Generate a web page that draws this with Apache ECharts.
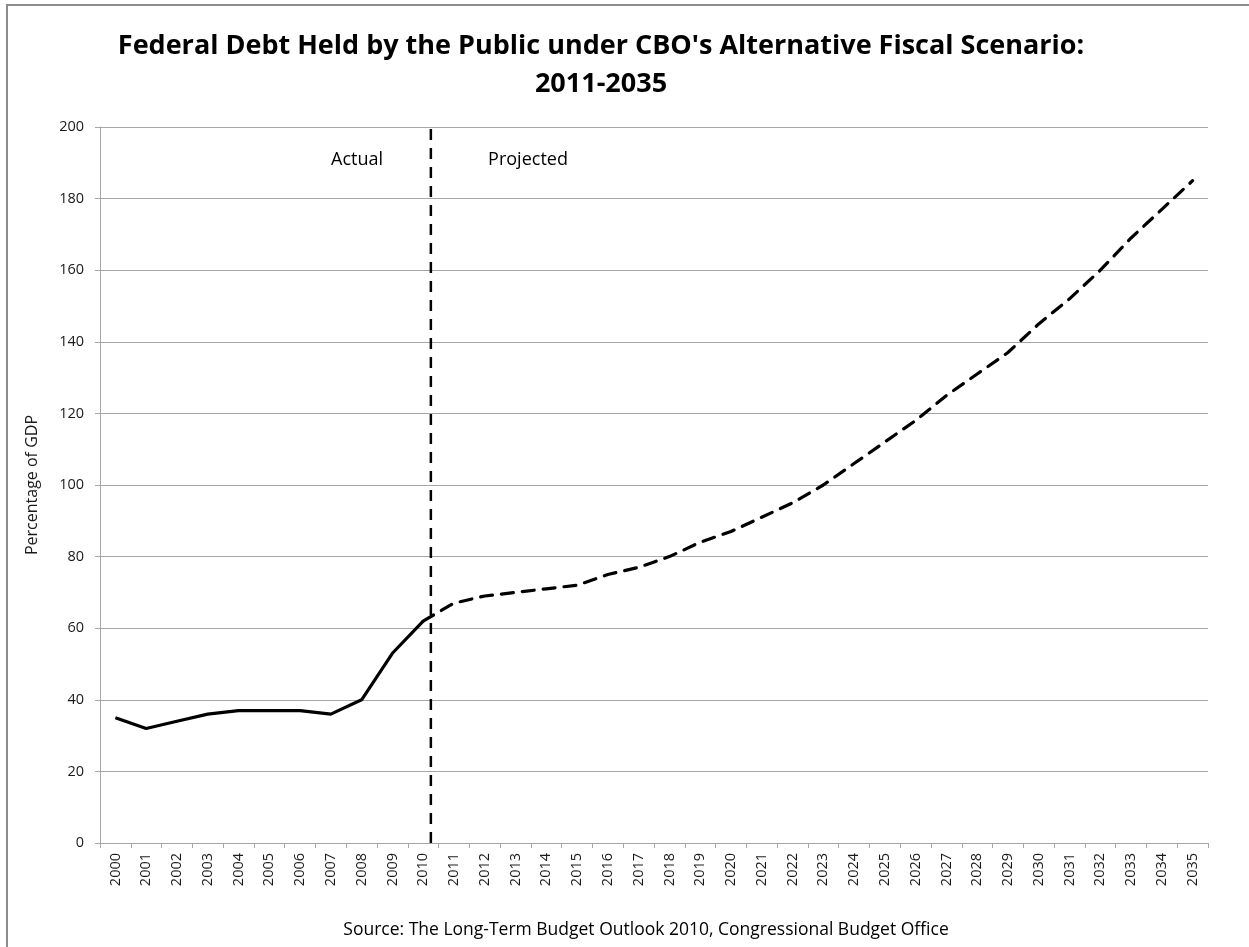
<!DOCTYPE html>
<html>
<head>
<meta charset="utf-8">
<script src="https://cdn.jsdelivr.net/npm/echarts@6/dist/echarts.min.js"></script>
<style>
html,body{margin:0;padding:0;background:#fff;}
#main{width:1249px;height:947px;}
</style>
</head>
<body>
<div id="main"></div>
<script>
// ---- data ----
const years = ['2000','2001','2002','2003','2004','2005','2006','2007','2008','2009','2010','2011','2012','2013','2014','2015','2016','2017','2018','2019','2020','2021','2022','2023','2024','2025','2026','2027','2028','2029','2030','2031','2032','2033','2034','2035'];
const actualValues = [35, 32, 34, 36, 37, 37, 37, 36, 40, 53, 62];
const projectedYears = ['2010','2011','2012','2013','2014','2015','2016','2017','2018','2019','2020','2021','2022','2023','2024','2025','2026','2027','2028','2029','2030','2031','2032','2033','2034','2035'];
const projectedValues = [62, 67, 69, 70, 71, 72, 75, 77, 80, 84, 87, 91, 95, 100, 106, 112, 118, 125, 131, 137, 145, 152, 160, 169, 177, 185];
const yTicks = [0, 20, 40, 60, 80, 100, 120, 140, 160, 180, 200];
const dividerPos = 10.25;   // position of the Actual/Projected divider, in category-index units
const titleLines = ["Federal Debt Held by the Public under CBO's Alternative Fiscal Scenario:", "2011-2035"];
const sourceText = 'Source: The Long-Term Budget Outlook 2010, Congressional Budget Office';

const actualSeries = years.map((y, i) => i < actualValues.length ? actualValues[i] : '-');
const projectedSeries = years.map(y => {
  const k = projectedYears.indexOf(y);
  return k >= 0 ? projectedValues[k] : '-';
});

const chart = echarts.init(document.getElementById('main'), null, {renderer: 'canvas'});
const labelFont = '"Open Sans", "Liberation Sans", sans-serif';

chart.setOption({
  animation: false,
  backgroundColor: '#fff',
  grid: {left: 100, right: 41, top: 127, bottom: 104, containLabel: false},
  xAxis: [{
    type: 'category',
    data: years,
    boundaryGap: true,
    axisLine: {onZero: false, lineStyle: {color: '#a6a6a6', width: 1}},
    axisTick: {show: true, length: 5, lineStyle: {color: '#a6a6a6'}},
    axisLabel: {rotate: 90, fontSize: 14.5, color: '#1a1a1a', fontFamily: labelFont, margin: 10, interval: 0},
    splitLine: {show: false}
  }, {
    type: 'value',
    min: -0.5, max: 35.5,
    show: false
  }],
  yAxis: {
    type: 'value',
    min: yTicks[0], max: yTicks[yTicks.length - 1], interval: 20,
    name: 'Percentage of GDP',
    nameLocation: 'middle',
    nameGap: 60,
    nameTextStyle: {fontSize: 16, color: '#1a1a1a', fontFamily: labelFont},
    axisLine: {show: true, onZero: false, lineStyle: {color: '#a6a6a6', width: 1}},
    axisTick: {show: true, length: 5, lineStyle: {color: '#a6a6a6'}},
    axisLabel: {fontSize: 14.5, color: '#1a1a1a', fontFamily: labelFont, margin: 16},
    splitLine: {lineStyle: {color: '#a6a6a6', width: 1}}
  },
  series: [{
    name: 'Actual',
    type: 'line',
    data: actualSeries,
    symbol: 'none',
    lineStyle: {color: '#000', width: 3.2, type: 'solid'},
    z: 3
  }, {
    name: 'Projected',
    type: 'line',
    data: projectedSeries,
    symbol: 'none',
    lineStyle: {color: '#000', width: 3.2, type: [12, 9], cap: 'round'},
    z: 3
  }, {
    name: 'Divider',
    type: 'line',
    xAxisIndex: 1,
    data: [[dividerPos, yTicks[0]], [dividerPos, yTicks[yTicks.length - 1]]],
    symbol: 'none',
    lineStyle: {color: '#000', width: 2.5, type: [11, 8]},
    z: 4
  }],
  graphic: [
    {type: 'rect', shape: {x: 7, y: 5, width: 1300, height: 1000}, style: {fill: 'none', stroke: '#8c8c8c', lineWidth: 2}, z: -1},
    {type: 'text', style: {text: titleLines[0], x: 601, y: 46, textAlign: 'center', textVerticalAlign: 'middle', font: 'bold 27px "Open Sans", sans-serif', fill: '#000'}},
    {type: 'text', style: {text: titleLines[1], x: 601, y: 84, textAlign: 'center', textVerticalAlign: 'middle', font: 'bold 27px "Open Sans", sans-serif', fill: '#000'}},
    {type: 'text', style: {text: 'Actual', x: 357, y: 160, textAlign: 'center', textVerticalAlign: 'middle', font: '18px "Open Sans", sans-serif', fill: '#000'}},
    {type: 'text', style: {text: 'Projected', x: 528, y: 160, textAlign: 'center', textVerticalAlign: 'middle', font: '18px "Open Sans", sans-serif', fill: '#000'}},
    {type: 'text', style: {text: sourceText, x: 646, y: 930, textAlign: 'center', textVerticalAlign: 'middle', font: '17.5px "Open Sans", sans-serif', fill: '#000'}}
  ]
});
</script>
</body>
</html>
